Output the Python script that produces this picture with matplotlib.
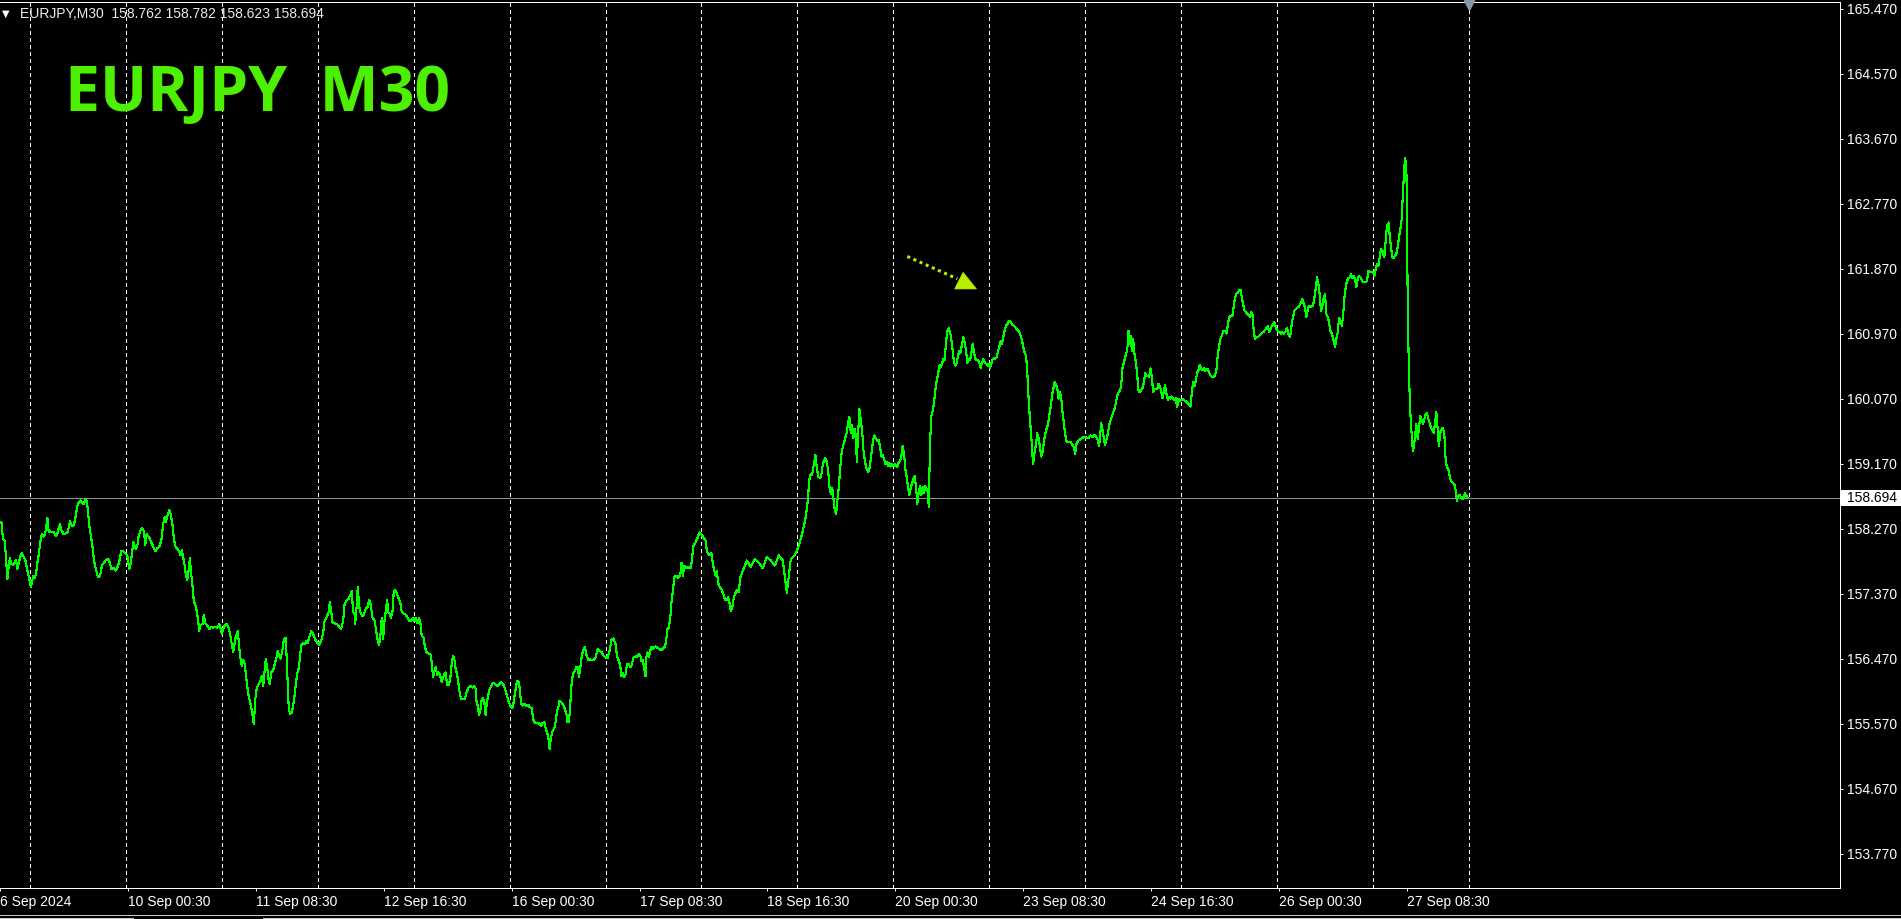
import matplotlib.pyplot as plt
import matplotlib.transforms as mtransforms
from matplotlib.lines import Line2D
from matplotlib.patches import Rectangle, Polygon

plt.rcParams['font.family'] = ['Liberation Sans', 'DejaVu Sans']

symbol = "EURJPY"
period = "M30"
ohlc = [158.762, 158.782, 158.623, 158.694]
last_price = ohlc[3]

# (bar, close); bar = 30 min bars counted from Mon 9 Sep 00:00
week_sep09 = [
    (-14.3, 158.36), (-13.5, 158.13), (-12.6, 158.10), (-12.0, 157.87), (-11.3, 157.57), (-10.6, 157.76),
    (-10.0, 157.86), (-9.3, 157.78), (-8.3, 157.77), (-7.6, 157.80), (-7.0, 157.84), (-6.3, 157.71),
    (-5.6, 157.80), (-4.6, 157.91), (-4.0, 157.93), (-3.0, 157.87), (-2.3, 157.83), (-1.3, 157.69),
    (-0.3, 157.57), (0.4, 157.46), (1.0, 157.53), (1.7, 157.62), (2.4, 157.59), (3.0, 157.64),
    (3.7, 157.80), (4.4, 157.92), (5.4, 158.13), (6.0, 158.19), (6.7, 158.16), (7.4, 158.19),
    (8.0, 158.26), (8.7, 158.42), (9.4, 158.22), (10.0, 158.24), (10.7, 158.22), (11.5, 158.23),
    (12.4, 158.20), (13.0, 158.17), (13.7, 158.20), (14.4, 158.28), (15.0, 158.33), (15.7, 158.25),
    (16.7, 158.20), (17.7, 158.20), (18.7, 158.22), (19.4, 158.28), (20.0, 158.37), (20.7, 158.32),
    (21.4, 158.31), (22.0, 158.32), (22.7, 158.42), (23.7, 158.59), (24.4, 158.63), (25.4, 158.66),
    (26.4, 158.62), (27.0, 158.61), (27.7, 158.68), (28.4, 158.65), (29.0, 158.52), (29.7, 158.31),
    (30.7, 158.13), (31.4, 157.99), (32.0, 157.83), (33.0, 157.71), (34.0, 157.60), (34.7, 157.60),
    (35.4, 157.66), (36.0, 157.76), (37.0, 157.80), (38.0, 157.84), (39.0, 157.85), (40.0, 157.80),
    (40.7, 157.71), (41.7, 157.73), (42.7, 157.69), (43.7, 157.73), (44.7, 157.82), (45.7, 157.96),
    (46.7, 157.96), (47.7, 157.93), (48.7, 157.90), (49.7, 157.71), (50.4, 157.79), (51.0, 157.92),
    (51.7, 158.08), (52.4, 158.03), (53.0, 157.99), (53.7, 158.03), (54.4, 158.17), (55.4, 158.25),
    (56.0, 158.28), (57.0, 158.24), (57.7, 158.05), (58.4, 158.20), (59.0, 158.17), (59.7, 158.15),
    (60.7, 158.08), (61.7, 158.02), (62.7, 157.96), (63.7, 158.00), (64.7, 158.02), (65.7, 158.10),
    (66.7, 158.34), (67.4, 158.43), (68.0, 158.36), (68.7, 158.44), (69.7, 158.53), (70.4, 158.47),
    (71.4, 158.31), (72.0, 158.13), (72.7, 158.03), (73.7, 157.99), (74.7, 157.96), (75.4, 157.90),
    (76.0, 157.97), (76.7, 157.87), (77.4, 157.76), (78.0, 157.64), (78.7, 157.56), (79.4, 157.70),
    (80.0, 157.86), (80.7, 157.64), (81.4, 157.46), (82.0, 157.26), (83.0, 157.20), (83.7, 157.09),
    (84.7, 156.86), (85.4, 156.94), (86.4, 156.95), (87.0, 157.08), (87.7, 156.96), (88.7, 156.93),
    (89.7, 156.88), (90.7, 156.91), (91.7, 156.90), (92.7, 156.91), (93.7, 156.90), (94.7, 156.95),
    (95.4, 156.89), (96.0, 156.81), (96.7, 156.88), (97.4, 156.93), (98.4, 156.95), (99.4, 156.90),
    (100.0, 156.83), (100.7, 156.72), (101.7, 156.56), (102.7, 156.74), (103.4, 156.81), (104.0, 156.86),
    (104.7, 156.62), (105.4, 156.46), (106.0, 156.37), (106.7, 156.45), (107.4, 156.40), (108.0, 156.26),
    (108.7, 156.09), (109.4, 155.96), (110.0, 155.89), (110.7, 155.80), (111.4, 155.68), (112.0, 155.56),
    (112.7, 155.90), (113.4, 156.05), (114.4, 156.12), (115.4, 156.17), (116.0, 156.23), (116.7, 156.09),
    (117.4, 156.30), (118.0, 156.46), (118.7, 156.35), (119.4, 156.17), (120.0, 156.12), (120.7, 156.28),
    (121.7, 156.31), (122.7, 156.42), (123.4, 156.49), (124.0, 156.58), (124.7, 156.51), (125.4, 156.47),
    (126.4, 156.60), (127.0, 156.74), (128.0, 156.76), (128.7, 156.30), (129.4, 155.84), (130.0, 155.71),
    (131.0, 155.72), (131.7, 155.82), (132.4, 155.96), (133.0, 156.12), (133.7, 156.26), (134.4, 156.33),
    (135.0, 156.46), (135.7, 156.65), (136.7, 156.69), (137.7, 156.68), (138.4, 156.72), (139.0, 156.69),
    (139.7, 156.76), (140.7, 156.85), (141.7, 156.81), (142.7, 156.74), (143.7, 156.69), (144.7, 156.66),
    (145.7, 156.72), (146.7, 156.83), (147.4, 156.99), (148.4, 157.04), (149.4, 157.11), (150.0, 157.25),
    (150.7, 157.13), (151.4, 156.97), (152.4, 156.96), (153.7, 156.95), (154.7, 156.91), (155.7, 156.88),
    (156.7, 156.99), (157.4, 157.22), (158.4, 157.28), (159.4, 157.30), (160.4, 157.36), (161.0, 157.41),
    (161.7, 157.12), (162.4, 157.09), (162.7, 156.95), (163.4, 157.18), (164.0, 157.46), (164.7, 157.20),
    (165.4, 157.11), (166.4, 157.06), (167.0, 157.08), (168.0, 157.16), (169.0, 157.19), (169.7, 157.28),
]

week_sep13 = [
    (170.4, 157.23), (171.4, 157.04), (172.4, 157.00), (173.0, 156.90), (173.7, 156.76), (174.7, 156.66),
    (175.4, 156.81), (176.0, 157.03), (176.7, 156.74), (177.4, 156.99), (178.0, 157.13), (178.7, 157.28),
    (179.4, 157.11), (180.0, 157.09), (180.7, 157.04), (181.4, 157.13), (182.0, 157.39), (182.7, 157.42),
    (183.4, 157.39), (184.0, 157.34), (184.7, 157.29), (185.4, 157.23), (186.0, 157.12), (187.0, 157.09),
    (188.0, 157.08), (189.0, 157.04), (189.7, 156.99), (190.7, 157.00), (191.7, 157.03), (192.4, 156.99),
    (193.0, 157.04), (194.0, 156.96), (194.7, 157.03), (195.4, 156.95), (196.0, 156.79), (197.0, 156.76),
    (197.7, 156.62), (198.4, 156.56), (199.4, 156.54), (200.4, 156.53), (201.0, 156.42), (201.7, 156.22),
    (202.4, 156.30), (203.0, 156.35), (203.7, 156.25), (204.4, 156.28), (205.0, 156.26), (206.0, 156.15),
    (206.7, 156.21), (207.4, 156.26), (208.0, 156.28), (208.7, 156.11), (209.7, 156.11), (210.4, 156.22),
    (211.0, 156.39), (211.7, 156.51), (212.4, 156.45), (213.0, 156.33), (213.7, 156.26), (214.4, 156.13),
    (215.0, 156.00), (215.7, 155.91), (216.7, 155.91), (217.7, 155.92), (218.4, 156.00), (219.4, 156.07),
    (220.4, 156.09), (221.4, 156.07), (222.4, 156.09), (223.0, 156.05), (223.4, 155.89), (224.0, 155.82),
    (224.7, 155.69), (225.4, 155.77), (226.0, 155.90), (226.7, 155.93), (227.4, 155.86), (228.0, 155.69),
    (228.7, 155.88), (229.4, 155.98), (230.0, 156.05), (230.7, 156.09), (231.7, 156.14), (232.7, 156.12),
    (233.7, 156.09), (234.7, 156.11), (235.7, 156.14), (236.7, 156.12), (237.7, 156.05), (238.7, 155.96),
    (239.4, 155.89), (240.4, 155.82), (241.4, 155.79), (242.0, 155.86), (242.7, 156.00), (243.7, 156.16),
    (244.4, 156.15), (245.0, 156.07), (245.7, 155.86), (246.4, 155.82), (247.4, 155.84), (248.4, 155.82),
    (249.4, 155.83), (250.0, 155.80), (251.0, 155.79), (252.0, 155.61), (253.0, 155.58), (254.0, 155.58),
    (255.0, 155.57), (255.7, 155.54), (256.4, 155.58), (257.4, 155.59), (258.0, 155.51), (258.7, 155.45),
    (259.4, 155.38), (260.0, 155.22), (260.7, 155.38), (261.4, 155.46), (262.4, 155.51), (263.0, 155.59),
    (263.7, 155.75), (264.4, 155.80), (265.0, 155.89), (266.0, 155.86), (267.0, 155.82), (267.7, 155.77),
    (268.4, 155.71), (269.0, 155.59), (269.7, 155.59), (270.4, 155.86), (271.0, 156.12), (271.7, 156.26),
    (272.7, 156.30), (273.4, 156.35), (274.0, 156.36), (274.7, 156.22), (275.4, 156.35), (276.0, 156.49),
    (276.7, 156.58), (277.7, 156.63), (278.4, 156.53), (279.4, 156.45), (280.4, 156.46), (281.4, 156.45),
    (282.4, 156.46), (283.0, 156.49), (284.0, 156.60), (285.0, 156.58), (286.0, 156.56), (287.0, 156.51),
    (288.0, 156.49), (289.0, 156.48), (290.0, 156.58), (291.0, 156.73), (292.0, 156.75), (293.0, 156.67),
    (293.7, 156.51), (294.7, 156.44), (295.4, 156.36), (296.0, 156.23), (296.7, 156.27), (297.4, 156.22),
    (298.0, 156.25), (298.7, 156.39), (299.7, 156.39), (300.7, 156.35), (301.4, 156.42), (302.0, 156.49),
    (303.0, 156.50), (304.0, 156.50), (304.7, 156.54), (305.4, 156.51), (306.0, 156.44), (306.7, 156.45),
    (307.4, 156.33), (308.0, 156.23), (308.4, 156.49), (309.0, 156.56), (309.7, 156.49), (310.4, 156.58),
    (311.0, 156.63), (311.7, 156.60), (312.4, 156.63), (313.0, 156.64), (314.0, 156.62), (315.0, 156.60),
    (316.0, 156.59), (317.0, 156.62), (317.7, 156.63), (318.4, 156.74), (319.0, 156.88), (319.7, 156.90),
    (320.4, 157.04), (321.0, 157.25), (321.7, 157.41), (322.4, 157.60), (323.4, 157.62), (324.4, 157.59),
    (325.4, 157.63), (326.0, 157.80), (326.7, 157.62), (327.4, 157.76), (328.0, 157.72), (329.0, 157.74),
    (330.0, 157.73), (330.7, 157.72), (331.4, 157.90), (332.0, 158.03), (333.0, 158.08), (334.0, 158.14),
    (335.0, 158.22), (336.0, 158.19), (337.0, 158.15), (338.0, 158.11), (338.7, 157.96), (339.4, 157.92),
    (340.4, 157.90), (341.0, 157.93), (341.7, 157.78), (342.4, 157.69), (343.0, 157.62), (343.7, 157.69),
    (344.4, 157.51), (345.0, 157.47), (346.0, 157.43), (347.0, 157.36), (347.7, 157.29), (348.7, 157.28),
    (349.4, 157.32), (350.0, 157.25), (350.7, 157.13), (351.4, 157.18), (352.0, 157.29), (352.7, 157.36),
    (353.7, 157.42), (354.7, 157.39), (355.4, 157.59),
    (356.7, 157.69), (358.7, 157.83), (360.7, 157.74), (362.7, 157.85), (364.7, 157.80), (366.7, 157.72),
    (368.7, 157.88), (370.7, 157.83), (372.7, 157.76), (374.7, 157.90), (376.7, 157.83), (378.7, 157.38),
    (379.7, 157.62), (380.7, 157.85), (382.7, 157.90), (384.7, 158.03), (386.7, 158.24),
]

week_sep19 = [
    (387.9, 158.39), (388.7, 158.54), (389.4, 158.70), (389.7, 158.89), (390.4, 159.02), (391.4, 159.02),
    (392.0, 159.12), (392.7, 159.23), (393.0, 159.29), (393.7, 159.12), (394.4, 158.99), (395.4, 158.97),
    (396.0, 159.02), (396.7, 159.16), (397.4, 159.22), (398.0, 159.25), (398.7, 159.20), (399.4, 159.07),
    (400.0, 158.86), (400.7, 158.75), (401.4, 158.84), (402.0, 158.70), (402.7, 158.53), (403.4, 158.47),
    (404.0, 158.66), (404.7, 158.84), (405.4, 159.10), (406.0, 159.29), (406.7, 159.40), (407.4, 159.47),
    (408.0, 159.53), (408.7, 159.60), (409.4, 159.74), (410.0, 159.82), (410.7, 159.60), (411.4, 159.70),
    (412.0, 159.53), (412.7, 159.65), (413.4, 159.53), (413.7, 159.19), (414.4, 159.58), (415.0, 159.93),
    (415.7, 159.77), (416.4, 159.63), (417.0, 159.37), (417.7, 159.23), (418.4, 159.12), (419.4, 159.05),
    (420.0, 159.10), (420.7, 159.23), (421.4, 159.40), (422.0, 159.51), (422.7, 159.56), (423.4, 159.51),
    (424.0, 159.49), (424.7, 159.50), (425.4, 159.40), (426.0, 159.27), (426.7, 159.29), (427.4, 159.23),
    (428.0, 159.17), (428.7, 159.19), (429.4, 159.14), (430.0, 159.18), (430.7, 159.13), (431.4, 159.17),
    (432.0, 159.14), (433.0, 159.16), (434.0, 159.12), (434.7, 159.19), (435.4, 159.21), (436.0, 159.27),
    (436.7, 159.42), (437.4, 159.30), (438.0, 159.10), (438.7, 158.98), (439.4, 158.85), (440.0, 158.73),
    (440.7, 158.84), (441.4, 158.90), (442.0, 158.96), (442.7, 159.00), (443.4, 158.84), (444.0, 158.61),
    (444.7, 158.77), (445.4, 158.86), (446.0, 158.73), (446.7, 158.85), (447.4, 158.77), (448.0, 158.86),
    (448.7, 158.82), (449.4, 158.76), (449.7, 158.57), (450.4, 159.47), (451.0, 159.83), (451.7, 159.90),
    (452.4, 160.02), (453.0, 160.18), (453.7, 160.32), (454.4, 160.41), (455.0, 160.53), (455.7, 160.50),
    (456.4, 160.56), (457.0, 160.62), (457.7, 160.60), (458.4, 160.87), (459.0, 161.00), (459.7, 161.05),
    (460.4, 160.99), (461.0, 160.90), (461.7, 160.73), (462.4, 160.57), (463.0, 160.53), (463.7, 160.56),
    (464.4, 160.67), (465.0, 160.73), (465.7, 160.71), (466.4, 160.83), (467.0, 160.92), (467.7, 160.85),
    (468.4, 160.73), (469.0, 160.57), (469.7, 160.62), (470.4, 160.60), (471.0, 160.69), (471.7, 160.83),
    (472.4, 160.71), (473.0, 160.62), (473.7, 160.60), (474.4, 160.61), (475.0, 160.57), (475.7, 160.50),
    (476.4, 160.57), (477.0, 160.62), (477.7, 160.57), (478.4, 160.55), (479.0, 160.53), (479.7, 160.55),
    (480.4, 160.50), (481.0, 160.55), (481.7, 160.62), (482.4, 160.63), (483.0, 160.62), (483.7, 160.64),
    (484.4, 160.73), (485.0, 160.78), (485.7, 160.87), (486.4, 160.83), (487.0, 160.92), (487.7, 161.02),
    (488.4, 161.08), (489.0, 161.10), (490.0, 161.15), (490.7, 161.13), (491.7, 161.09), (492.7, 161.07),
    (493.7, 161.03), (494.7, 161.01), (495.4, 160.97), (496.4, 160.88), (497.4, 160.73), (498.4, 160.67),
    (499.0, 160.46), (499.7, 160.07), (500.4, 159.77), (501.0, 159.56), (501.7, 159.26), (502.0, 159.17),
    (502.7, 159.33), (503.4, 159.44), (504.0, 159.59), (504.7, 159.53), (505.4, 159.40), (506.0, 159.27),
    (506.7, 159.33), (507.4, 159.49), (508.0, 159.58), (508.7, 159.66), (509.4, 159.71), (510.0, 159.83),
    (510.7, 159.95), (511.4, 160.11), (512.0, 160.20), (512.7, 160.30), (513.4, 160.27), (514.0, 160.22),
    (514.7, 160.07), (515.4, 160.16), (516.0, 160.08), (516.7, 159.88), (517.4, 159.71), (518.0, 159.58),
    (518.7, 159.48), (519.7, 159.47), (520.7, 159.47), (521.7, 159.43), (522.4, 159.40), (523.0, 159.31),
    (523.7, 159.45), (524.7, 159.49), (525.7, 159.51), (526.7, 159.53), (527.7, 159.54), (528.7, 159.53),
    (529.7, 159.53), (530.7, 159.56), (531.7, 159.54), (532.7, 159.57), (533.7, 159.53), (534.4, 159.49),
    (535.0, 159.42), (535.7, 159.63), (536.0, 159.73), (536.7, 159.63), (537.4, 159.51), (538.0, 159.43),
    (538.7, 159.51), (539.4, 159.60),
]

week_sep24 = [
    (540.0, 159.70), (540.7, 159.77), (541.4, 159.83), (542.0, 159.88), (542.7, 159.93), (543.4, 160.02),
    (544.0, 160.11), (544.7, 160.16), (545.4, 160.18), (546.0, 160.25), (546.7, 160.50), (547.4, 160.57),
    (548.0, 160.64), (548.7, 160.71), (549.4, 160.83), (549.7, 161.01), (550.4, 160.83), (550.7, 160.94),
    (551.4, 160.73), (552.0, 160.90), (552.7, 160.69), (553.4, 160.57), (554.0, 160.41), (554.7, 160.18),
    (555.4, 160.16), (556.0, 160.19), (556.7, 160.22), (557.4, 160.30), (558.0, 160.42), (558.7, 160.38),
    (559.4, 160.39), (560.0, 160.37), (560.7, 160.49), (561.4, 160.37), (562.0, 160.16), (562.7, 160.20),
    (563.4, 160.20), (564.0, 160.20), (564.7, 160.28), (565.4, 160.24), (566.0, 160.18), (566.7, 160.08),
    (567.4, 160.18), (568.0, 160.26), (568.7, 160.13), (569.4, 160.05), (570.0, 160.09), (570.7, 160.07),
    (571.4, 160.10), (572.0, 160.07), (572.7, 160.05), (573.4, 160.08), (574.0, 159.95), (574.7, 160.07),
    (575.4, 160.04), (576.0, 160.05), (577.0, 160.06), (578.0, 160.04), (579.0, 160.02), (580.0, 159.99),
    (580.7, 159.96), (581.4, 160.16), (582.0, 160.30), (582.7, 160.24), (583.4, 160.32), (584.0, 160.43),
    (584.7, 160.47), (585.4, 160.54), (586.0, 160.49), (586.7, 160.47), (587.4, 160.50), (588.0, 160.46),
    (588.7, 160.47), (589.4, 160.48), (590.0, 160.43), (590.7, 160.39), (591.4, 160.37), (592.4, 160.37),
    (593.0, 160.40), (593.7, 160.47), (594.4, 160.69), (595.0, 160.80), (595.7, 160.90), (596.4, 160.94),
    (597.0, 161.00), (598.0, 161.01), (598.7, 160.97), (599.4, 161.10), (600.0, 161.19), (600.7, 161.22),
    (601.7, 161.22), (602.4, 161.37), (603.0, 161.47), (603.7, 161.53), (604.4, 161.54), (605.0, 161.57),
    (605.7, 161.58), (606.4, 161.47), (607.0, 161.38), (607.7, 161.29), (608.4, 161.27), (609.0, 161.25),
    (609.7, 161.23), (610.4, 161.20), (611.0, 161.27), (611.7, 161.23), (612.4, 160.99), (613.0, 160.90),
    (613.7, 160.92), (614.4, 160.92), (615.0, 160.94), (616.0, 160.97), (617.0, 160.99), (617.7, 161.01),
    (618.7, 161.05), (619.4, 161.07), (620.0, 160.99), (620.7, 161.03), (621.4, 161.08), (622.0, 161.10),
    (622.7, 161.13), (623.4, 161.06), (624.0, 161.02), (624.7, 161.00), (625.4, 160.99), (626.0, 160.96),
    (626.7, 160.99), (627.4, 160.97), (628.4, 161.01), (629.0, 161.05), (629.7, 160.97), (630.4, 160.92),
    (631.0, 160.99), (631.4, 161.13), (632.0, 161.20), (632.7, 161.29), (633.4, 161.31), (634.0, 161.33),
    (634.7, 161.34), (635.4, 161.37), (636.0, 161.40), (636.7, 161.45), (637.4, 161.38), (638.0, 161.33),
    (638.7, 161.20), (639.4, 161.31), (640.0, 161.36), (640.7, 161.34), (641.4, 161.36), (642.0, 161.35),
    (642.7, 161.47), (643.4, 161.61), (644.0, 161.75), (644.7, 161.66), (645.4, 161.50), (646.0, 161.29),
    (646.7, 161.36), (647.4, 161.47), (648.0, 161.52), (648.7, 161.24), (649.4, 161.20), (650.0, 161.13),
    (650.7, 161.01), (651.4, 160.97), (652.0, 160.92), (652.7, 160.83), (653.0, 160.78), (653.7, 160.90),
    (654.4, 160.99), (655.0, 161.19), (655.7, 161.16), (656.4, 161.08), (657.0, 161.20), (657.7, 161.47),
    (658.4, 161.62), (659.0, 161.70), (659.7, 161.74), (660.4, 161.75), (661.0, 161.79), (661.7, 161.74),
    (662.4, 161.77), (663.0, 161.73), (663.7, 161.61), (664.4, 161.74), (665.0, 161.77), (665.7, 161.75),
    (666.4, 161.71), (667.0, 161.68), (668.0, 161.68), (669.0, 161.70), (669.7, 161.84), (670.4, 161.83),
    (671.0, 161.82), (672.0, 161.83), (672.7, 161.77), (673.4, 161.87), (674.0, 161.94), (674.7, 161.91),
    (675.4, 162.03), (676.0, 162.14), (676.7, 162.12), (677.4, 162.05), (677.7, 162.03), (678.4, 162.26),
    (679.0, 162.47), (679.7, 162.49), (680.0, 162.51), (680.4, 162.30), (681.0, 162.17), (681.7, 162.03),
    (682.4, 162.02), (683.0, 162.05), (683.7, 162.08), (684.4, 162.17), (685.0, 162.30), (685.7, 162.42),
    (686.4, 162.56), (687.0, 162.93), (687.7, 163.25), (688.0, 163.40), (688.7, 163.32), (689.0, 162.65),
    (689.4, 161.34), (690.0, 160.41), (690.7, 159.88), (691.4, 159.56), (692.0, 159.34), (692.7, 159.46),
    (693.4, 159.63), (693.7, 159.72), (694.4, 159.51), (695.0, 159.67), (695.7, 159.83), (696.4, 159.77),
    (697.0, 159.72), (697.7, 159.79), (698.4, 159.86), (699.0, 159.87), (699.7, 159.79), (700.4, 159.73),
    (701.0, 159.67), (701.7, 159.64), (702.4, 159.60), (703.0, 159.72), (703.7, 159.89), (704.4, 159.63),
    (705.0, 159.42), (705.7, 159.60), (706.4, 159.65), (707.0, 159.67), (707.7, 159.58), (708.4, 159.21),
    (709.0, 159.12), (709.7, 159.10), (710.4, 159.00), (711.0, 158.93), (711.7, 158.91), (712.7, 158.89),
    (713.4, 158.80), (714.0, 158.66), (714.7, 158.73), (715.4, 158.74), (716.0, 158.71), (716.7, 158.68),
    (717.4, 158.71), (718.0, 158.76), (718.7, 158.73), (719.4, 158.694),
]

# vertical separators at each trading day start (bar index)
day_starts = [0, 48, 96, 144, 192, 240, 288, 336, 384, 432, 480, 528, 576, 624, 672, 720]

tick_bars = [-15, 49, 113, 177, 241, 305, 369, 433, 497, 561, 625, 689]
tick_labels = ["6 Sep 2024", "10 Sep 00:30", "11 Sep 08:30", "12 Sep 16:30", "16 Sep 00:30",
               "17 Sep 08:30", "18 Sep 16:30", "20 Sep 00:30", "23 Sep 08:30", "24 Sep 16:30",
               "26 Sep 00:30", "27 Sep 08:30"]
price_ticks = [153.770, 154.670, 155.570, 156.470, 157.370, 158.270, 159.170,
               160.070, 160.970, 161.870, 162.770, 163.670, 164.570, 165.470]

# hand drawn arrow object (bar, price)
arrow_line = [(439.0, 162.04), (464.0, 161.73)]
arrow_head = [(462.7, 161.59), (473.6, 161.59), (466.9, 161.82)]
shift_bar = 720

data = week_sep09 + week_sep13 + week_sep19 + week_sep24
bars = [d[0] for d in data]
close = [d[1] for d in data]

W, H = 1901, 919
fig = plt.figure(figsize=(W / 100, H / 100), dpi=100, facecolor='black')
ax = fig.add_axes([0, 31 / H, 1839.5 / W, 885.7 / H], facecolor='black')
ax.set_xlim(-14.3, 905.45)
ax.set_ylim(153.295, 165.559)

px = 0.72  # one pixel in points
for d in day_starts:
    ax.axvline(d, color='white', lw=px, linestyle=(0, (4, 3)), antialiased=False, zorder=1)

ax.axhline(last_price, color='#8a939e', lw=px, antialiased=False, zorder=2)
ax.plot(bars, close, color='#00ff00', lw=px * 1.1, antialiased=False, zorder=3)

# arrow
arrow_col = '#b8f000'
ax.plot([p[0] for p in arrow_line], [p[1] for p in arrow_line], color=arrow_col,
        lw=2.2, linestyle=(0, (1, 1.2)), solid_capstyle='butt', zorder=4)
ax.add_patch(Polygon(arrow_head, closed=True, facecolor=arrow_col, edgecolor=arrow_col, lw=0.5, zorder=4))

for s in ['top', 'right', 'bottom']:
    ax.spines[s].set_color('white')
    ax.spines[s].set_linewidth(px)
ax.spines['left'].set_visible(False)

ax.yaxis.tick_right()
ax.set_yticks(price_ticks, [f"{v:.3f}" for v in price_ticks])
ax.tick_params(axis='y', colors='white', length=3 * px, width=px, pad=3, labelsize=10)
ax.set_xticks(tick_bars, tick_labels)
ax.tick_params(axis='x', colors='white', length=3 * px, width=px, pad=3, labelsize=10)
for lab in ax.get_xticklabels():
    lab.set_horizontalalignment('left')

# current price label
tr = mtransforms.blended_transform_factory(ax.transAxes, ax.transData)
ax_w = ax.bbox.width
unit_px = ax.bbox.height / (165.559 - 153.295)
ax.add_patch(Rectangle((1 + 1.5 / ax_w, last_price - 8 / unit_px), 62 / ax_w, 16 / unit_px,
                       transform=tr, facecolor='white', edgecolor='none', clip_on=False, zorder=5))
ax.text(1 + 7.5 / ax_w, last_price, f"{last_price:.3f}", transform=tr, color='black',
        fontsize=10, va='center', ha='left', clip_on=False, zorder=6)

# chart shift marker
tr2 = mtransforms.blended_transform_factory(ax.transData, ax.transAxes)
ax.plot([shift_bar], [1 - 2.5 / ax.bbox.height], marker='v', markersize=7, color='#8a97a6',
        transform=tr2, clip_on=False, zorder=6)

# header
fig.text(2 / W, 1 - 13.5 / H, '\u25bc', color='white', fontsize=7, va='center', ha='left',
         family=['DejaVu Sans'])
fig.text(20 / W, 1 - 14 / H, f"{symbol},{period}  " + " ".join(f"{v:.3f}" for v in ohlc),
         color='#e4ecf4', fontsize=10, va='center', ha='left')
fig.text(65 / W, 1 - 110.7 / H, f"{symbol}  {period}", color='#4cf000', fontsize=45,
         fontweight='bold', family=['Open Sans'], va='baseline', ha='left')

# tab bar at the bottom
for xs, y in [([0, 1], 915), ([0, 133 / W], 917.5), ([263 / W, 1], 917.5)]:
    fig.add_artist(Line2D(xs, [1 - y / H] * 2, transform=fig.transFigure, color='#c8c8c8', lw=px))
for x in [133, 263]:
    fig.add_artist(Line2D([x / W] * 2, [1 - 917.5 / H, 0], transform=fig.transFigure, color='#c8c8c8', lw=px))

fig.savefig('out.png', dpi=100, facecolor='black')
